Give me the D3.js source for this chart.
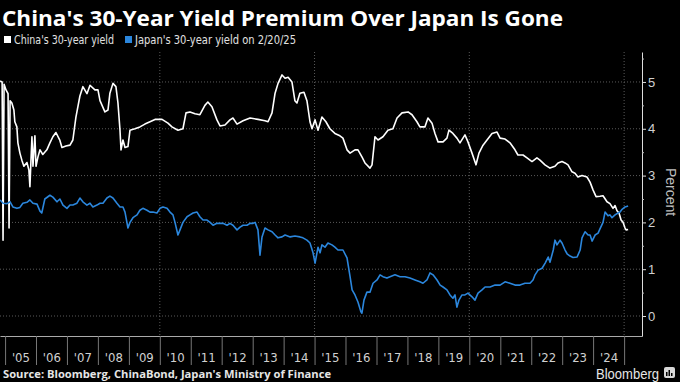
<!DOCTYPE html>
<html><head><meta charset="utf-8">
<script src="https://cdn.jsdelivr.net/npm/d3@7"></script>
<style>html,body{margin:0;padding:0;background:#000;} svg{display:block;}</style>
</head><body>
<svg id="chart" width="680" height="382"></svg>
<script>
const titleText = "China's 30-Year Yield Premium Over Japan Is Gone";
const seriesNames = ["China's 30-year yield", "Japan's 30-year yield on 2/20/25"];
const seriesColors = ["#ffffff", "#2b86dc"];
const sourceText = "Source: Bloomberg, ChinaBond, Japan's Ministry of Finance";
const yAxisTitle = "Percent";
const yTicks = [0, 1, 2, 3, 4, 5];
const yMinorTicks = [0.5, 1.5, 2.5, 3.5, 4.5, 5.5];
const yearTicks = [2005,2006,2007,2008,2009,2010,2011,2012,2013,2014,2015,2016,2017,2018,2019,2020,2021,2022,2023,2024,2025];
const yearLabels = ["'05","'06","'07","'08","'09","'10","'11","'12","'13","'14","'15","'16","'17","'18","'19","'20","'21","'22","'23","'24"];
const gridYears = [2010, 2015, 2020, 2025];

const chinaYield = [
["2004-11-03",5.02],["2004-11-27",5.0],["2004-12-08",1.62],["2004-12-20",4.95],["2005-01-12",4.83],["2005-02-05",4.75],["2005-02-17",1.88],["2005-03-01",4.6],["2005-03-22",4.55],["2005-04-15",4.4],["2005-04-26",4.15],["2005-05-20",4.04],["2005-06-01",3.7],["2005-06-25",3.48],["2005-07-18",3.33],["2005-08-11",3.2],["2005-09-16",3.28],["2005-10-09",3.12],["2005-10-21",2.76],["2005-11-02",3.3],["2005-11-14",3.83],["2005-11-26",3.2],["2005-12-19",3.85],["2006-01-01",3.2],["2006-01-24",3.4],["2006-02-17",3.55],["2006-03-22",3.45],["2006-05-09",3.55],["2006-06-14",3.7],["2006-07-19",3.83],["2006-08-24",3.92],["2006-10-10",3.75],["2006-11-03",3.6],["2006-12-20",3.63],["2007-02-06",3.65],["2007-03-12",3.76],["2007-04-17",4.25],["2007-06-03",4.7],["2007-07-08",4.9],["2007-08-25",4.75],["2007-09-30",4.93],["2007-11-27",4.83],["2008-01-02",4.83],["2008-01-26",4.6],["2008-03-24",4.36],["2008-04-29",4.4],["2008-05-22",4.76],["2008-06-27",4.97],["2008-08-01",4.9],["2008-08-25",4.55],["2008-09-18",3.97],["2008-09-30",3.55],["2008-10-23",3.76],["2008-11-16",3.6],["2008-12-21",3.62],["2009-01-14",3.97],["2009-03-13",4.0],["2009-05-11",4.04],["2009-07-09",4.1],["2009-09-07",4.15],["2009-11-05",4.2],["2010-01-27",4.2],["2010-04-07",4.12],["2010-05-24",4.04],["2010-08-03",3.97],["2010-10-01",4.0],["2010-11-06",4.34],["2010-12-23",4.36],["2011-02-20",4.32],["2011-04-19",4.3],["2011-06-17",4.5],["2011-07-22",4.57],["2011-09-08",4.47],["2011-11-06",4.19],["2011-12-12",4.06],["2012-02-09",4.08],["2012-04-08",4.19],["2012-05-13",4.23],["2012-06-30",4.1],["2012-09-09",4.17],["2012-12-01",4.23],["2013-03-04",4.2],["2013-05-26",4.17],["2013-07-01",4.15],["2013-08-17",4.34],["2013-09-22",4.76],["2013-10-27",4.97],["2013-12-13",5.15],["2014-01-18",5.08],["2014-02-23",5.1],["2014-04-09",5.0],["2014-05-14",4.6],["2014-06-07",4.55],["2014-07-12",4.76],["2014-08-29",4.78],["2014-10-03",4.6],["2014-11-08",4.15],["2014-12-02",4.0],["2015-01-07",4.19],["2015-02-11",3.97],["2015-03-29",4.25],["2015-05-15",4.15],["2015-07-01",4.0],["2015-08-29",3.9],["2015-10-27",3.85],["2015-12-02",3.8],["2016-01-19",3.55],["2016-02-24",3.48],["2016-04-22",3.55],["2016-05-27",3.55],["2016-07-13",3.4],["2016-08-18",3.27],["2016-10-16",3.16],["2016-11-09",3.23],["2016-12-14",3.83],["2017-01-19",3.76],["2017-03-18",3.83],["2017-05-16",3.97],["2017-07-14",4.0],["2017-08-31",4.23],["2017-10-29",4.34],["2018-01-08",4.36],["2018-02-24",4.3],["2018-04-23",4.15],["2018-05-28",4.04],["2018-07-26",4.04],["2018-08-31",4.23],["2018-10-18",4.12],["2018-11-22",3.9],["2018-12-28",3.72],["2019-02-25",3.72],["2019-04-12",3.8],["2019-05-06",3.97],["2019-06-22",3.9],["2019-08-08",3.8],["2019-09-13",3.7],["2019-11-11",3.87],["2019-12-16",3.72],["2020-02-02",3.48],["2020-03-20",3.23],["2020-04-24",3.48],["2020-06-11",3.65],["2020-07-28",3.76],["2020-09-25",3.9],["2020-11-23",3.93],["2020-12-29",3.8],["2021-02-26",3.78],["2021-04-25",3.7],["2021-06-23",3.55],["2021-07-28",3.44],["2021-09-26",3.44],["2021-11-12",3.38],["2022-01-10",3.3],["2022-03-09",3.38],["2022-04-14",3.33],["2022-06-12",3.23],["2022-08-10",3.16],["2022-10-08",3.2],["2022-11-13",3.27],["2022-12-30",3.3],["2023-02-04",3.27],["2023-03-11",3.23],["2023-04-27",3.08],["2023-06-01",3.05],["2023-07-06",2.97],["2023-08-23",3.0],["2023-10-21",2.97],["2023-11-26",2.86],["2024-01-01",2.69],["2024-02-05",2.55],["2024-03-22",2.56],["2024-04-27",2.57],["2024-06-13",2.44],["2024-07-18",2.4],["2024-08-23",2.3],["2024-09-16",2.36],["2024-10-09",2.25],["2024-11-02",2.2],["2024-11-26",2.05],["2024-12-20",2.0],["2025-01-12",1.88],["2025-01-24",1.84],["2025-02-17",1.85]
];

const japanYield = [
["2004-11-03",2.48],["2004-12-08",2.41],["2005-01-24",2.4],["2005-03-01",2.44],["2005-04-03",2.33],["2005-05-20",2.3],["2005-06-25",2.32],["2005-07-30",2.41],["2005-09-16",2.43],["2005-10-21",2.48],["2005-11-26",2.41],["2006-01-13",2.39],["2006-02-17",2.24],["2006-03-10",2.2],["2006-04-15",2.5],["2006-06-14",2.58],["2006-07-19",2.54],["2006-09-05",2.44],["2006-10-10",2.5],["2006-11-15",2.37],["2007-01-01",2.3],["2007-02-06",2.37],["2007-03-12",2.37],["2007-04-29",2.41],["2007-06-03",2.52],["2007-07-08",2.44],["2007-08-25",2.37],["2007-09-30",2.41],["2007-11-03",2.33],["2007-12-21",2.37],["2008-01-26",2.41],["2008-03-01",2.41],["2008-04-17",2.52],["2008-05-22",2.56],["2008-06-27",2.52],["2008-08-13",2.41],["2008-09-18",2.33],["2008-10-23",2.33],["2008-11-16",2.22],["2008-12-21",1.88],["2009-01-14",2.0],["2009-02-18",2.1],["2009-04-07",2.16],["2009-05-11",2.26],["2009-06-15",2.3],["2009-08-02",2.26],["2009-09-07",2.22],["2009-10-12",2.22],["2009-11-28",2.2],["2010-01-03",2.3],["2010-02-07",2.33],["2010-03-27",2.3],["2010-05-01",2.22],["2010-06-05",2.16],["2010-06-29",2.0],["2010-08-03",1.73],["2010-08-27",1.84],["2010-10-01",2.0],["2010-11-18",2.12],["2010-12-23",2.16],["2011-01-28",2.2],["2011-03-16",2.22],["2011-04-19",2.12],["2011-05-26",2.05],["2011-07-12",2.05],["2011-08-17",2.0],["2011-09-21",1.94],["2011-11-06",1.98],["2011-12-12",1.98],["2012-01-17",1.98],["2012-03-04",1.94],["2012-04-08",1.98],["2012-05-13",1.94],["2012-06-30",1.84],["2012-08-05",1.9],["2012-09-09",1.94],["2012-10-26",1.94],["2012-12-01",1.98],["2013-01-05",1.98],["2013-01-29",2.0],["2013-03-04",1.84],["2013-03-28",1.3],["2013-04-21",1.69],["2013-05-26",1.88],["2013-07-01",1.84],["2013-08-17",1.8],["2013-09-22",1.73],["2013-10-27",1.67],["2013-12-13",1.69],["2014-01-18",1.73],["2014-03-19",1.69],["2014-05-14",1.71],["2014-07-12",1.69],["2014-08-17",1.67],["2014-10-03",1.62],["2014-11-08",1.56],["2014-12-14",1.35],["2015-01-07",1.13],["2015-02-11",1.47],["2015-03-07",1.35],["2015-03-29",1.52],["2015-05-04",1.47],["2015-06-08",1.56],["2015-07-25",1.52],["2015-08-29",1.47],["2015-10-04",1.41],["2015-10-27",1.41],["2015-12-02",1.41],["2016-01-19",1.24],["2016-02-24",0.84],["2016-03-19",0.56],["2016-04-22",0.45],["2016-05-27",0.3],["2016-07-01",0.09],["2016-07-13",0.06],["2016-08-06",0.34],["2016-09-10",0.51],["2016-10-16",0.51],["2016-11-21",0.7],["2017-01-07",0.77],["2017-02-12",0.88],["2017-03-18",0.84],["2017-05-04",0.81],["2017-06-09",0.84],["2017-08-07",0.88],["2017-10-05",0.84],["2017-12-03",0.84],["2018-01-31",0.81],["2018-03-31",0.77],["2018-05-28",0.73],["2018-07-03",0.7],["2018-08-19",0.77],["2018-09-24",0.92],["2018-10-30",0.88],["2018-12-16",0.77],["2019-01-22",0.66],["2019-02-25",0.62],["2019-04-12",0.56],["2019-05-18",0.45],["2019-06-22",0.38],["2019-07-16",0.45],["2019-08-08",0.19],["2019-09-01",0.34],["2019-10-07",0.45],["2019-11-11",0.45],["2019-12-16",0.49],["2020-02-02",0.41],["2020-03-08",0.34],["2020-04-13",0.49],["2020-05-30",0.56],["2020-07-05",0.62],["2020-09-02",0.62],["2020-10-31",0.66],["2020-12-29",0.66],["2021-02-26",0.73],["2021-04-25",0.7],["2021-06-23",0.66],["2021-08-21",0.66],["2021-10-19",0.7],["2021-12-17",0.7],["2022-01-22",0.77],["2022-02-15",0.88],["2022-03-23",0.98],["2022-05-09",1.02],["2022-06-14",1.13],["2022-07-20",1.26],["2022-08-10",1.15],["2022-09-18",1.41],["2022-10-08",1.62],["2022-11-01",1.52],["2022-12-07",1.62],["2022-12-30",1.56],["2023-02-04",1.41],["2023-02-28",1.33],["2023-04-04",1.28],["2023-05-09",1.25],["2023-06-26",1.26],["2023-08-01",1.41],["2023-08-23",1.67],["2023-09-28",1.8],["2023-11-03",1.73],["2023-11-26",1.73],["2023-12-20",1.6],["2024-01-24",1.73],["2024-02-29",1.77],["2024-03-22",1.86],["2024-04-27",2.0],["2024-05-21",2.22],["2024-06-25",2.14],["2024-07-18",2.16],["2024-08-11",2.1],["2024-09-16",2.16],["2024-10-21",2.2],["2024-11-14",2.22],["2024-12-08",2.28],["2025-01-12",2.33],["2025-02-17",2.35]
];

const svg = d3.select("#chart");
svg.append("rect").attr("width", 680).attr("height", 382).attr("fill", "#000");

const plot = {left: 0, right: 642, top: 52, bottom: 336};
const parse = d3.timeParse("%Y-%m-%d");
const x = d3.scaleTime().domain([new Date(2004, 10, 2), new Date(2025, 6, 31)]).range([plot.left, plot.right]);
const y = d3.scaleLinear().domain([-0.427, 5.64]).range([plot.bottom, plot.top]);

function fit(sel, w) {
  const n = sel.node();
  const len = n.getComputedTextLength();
  if (len > 0) sel.attr("textLength", w).attr("lengthAdjust", "spacingAndGlyphs");
}

// Title
const t = svg.append("text").attr("x", 2).attr("y", 26).text(titleText)
  .attr("fill", "#fff").attr("font-family", "'Open Sans', 'DejaVu Sans', sans-serif")
  .attr("font-weight", 700).attr("font-size", 22);
fit(t, 561);

// Legend
const legendX = [4, 125];
const legendW = [100, 161];
seriesNames.forEach((name, i) => {
  svg.append("rect").attr("x", legendX[i]).attr("y", 36).attr("width", 7).attr("height", 7).attr("fill", seriesColors[i]);
  const lt = svg.append("text").attr("x", legendX[i] + 10).attr("y", 44).text(name)
    .attr("fill", "#e0e0e0").attr("font-family", "'Liberation Sans Narrow', 'DejaVu Sans Condensed', sans-serif")
    .attr("font-size", 12);
  fit(lt, legendW[i]);
});

// Grid
const gridG = svg.append("g");
gridG.selectAll("line.h").data(yTicks).join("line")
  .attr("x1", plot.left).attr("x2", plot.right)
  .attr("y1", d => y(d)).attr("y2", d => y(d))
  .attr("stroke", "#5a5a5a").attr("stroke-width", 1).attr("stroke-dasharray", "1,2");
gridG.selectAll("line.v").data(gridYears).join("line")
  .attr("x1", d => x(new Date(d, 0, 1))).attr("x2", d => x(new Date(d, 0, 1)))
  .attr("y1", plot.top).attr("y2", plot.bottom)
  .attr("stroke", "#5a5a5a").attr("stroke-width", 1).attr("stroke-dasharray", "1,2");

// Lines
const line = d3.line().x(d => x(parse(d[0]))).y(d => y(d[1])).curve(d3.curveLinear);
[chinaYield, japanYield].forEach((s, i) => {
  svg.append("path").datum(s).attr("d", line).attr("fill", "none")
    .attr("stroke", seriesColors[i]).attr("stroke-width", 1.6).attr("stroke-linejoin", "round");
});

// Bottom axis: year boundaries
const xAxis = d3.axisBottom(x).tickValues(yearTicks.map(yv => new Date(yv, 0, 1)))
  .tickSize(29).tickSizeOuter(0).tickFormat("");
const gx = svg.append("g").attr("transform", `translate(0,${plot.bottom})`).call(xAxis);
gx.select(".domain").attr("stroke", "#aaa");
gx.selectAll(".tick line").attr("stroke", "#777");

// Year labels
const labelDates = yearLabels.map((l, i) => new Date(yearTicks[i], 6, 1));
const xLab = d3.axisBottom(x).tickValues(labelDates).tickSize(0)
  .tickFormat((d, i) => yearLabels[i]);
const gxl = svg.append("g").attr("transform", `translate(0,${plot.bottom})`).call(xLab);
gxl.select(".domain").remove();
gxl.selectAll(".tick text").attr("y", 26).attr("dy", 0).attr("fill", "#d0d0d0")
  .attr("font-family", "'Liberation Sans Narrow', 'DejaVu Sans Condensed', sans-serif").attr("font-size", 13);

// Right axis
const yAxis = d3.axisRight(y).tickValues(yTicks).tickSize(4).tickSizeOuter(0).tickPadding(2)
  .tickFormat(d3.format("d"));
const gy = svg.append("g").attr("transform", `translate(${plot.right},0)`).call(yAxis);
gy.select(".domain").attr("stroke", "#ddd");
gy.selectAll(".tick line").attr("stroke", "#ddd");
gy.selectAll(".tick text").attr("fill", "#d0d0d0")
  .attr("font-family", "'Liberation Sans', 'DejaVu Sans', sans-serif").attr("font-size", 13);
const yMinor = d3.axisRight(y).tickValues(yMinorTicks).tickSize(2).tickFormat("");
const gym = svg.append("g").attr("transform", `translate(${plot.right},0)`).call(yMinor);
gym.select(".domain").remove();
gym.selectAll(".tick line").attr("stroke", "#bbb");

// Axis title
svg.append("text").attr("transform", "translate(666,192) rotate(90)")
  .attr("text-anchor", "middle").text(yAxisTitle).attr("fill", "#bdbdbd")
  .attr("font-family", "'Liberation Sans', 'DejaVu Sans', sans-serif").attr("font-size", 14);

// Source
const st = svg.append("text").attr("x", 3).attr("y", 378).text(sourceText)
  .attr("fill", "#e6e6e6").attr("font-family", "'Open Sans', 'DejaVu Sans', sans-serif")
  .attr("font-weight", 700).attr("font-size", 11);
fit(st, 328);

// Bloomberg mark
const bt = svg.append("text").attr("x", 596).attr("y", 379).text("Bloomberg")
  .attr("fill", "#e6e6e6").attr("font-family", "'Liberation Sans', 'DejaVu Sans', sans-serif")
  .attr("font-size", 14);
fit(bt, 63);
const icon = svg.append("g").attr("transform", "translate(664,367)");
icon.append("rect").attr("width", 11).attr("height", 11).attr("rx", 2).attr("fill", "#d8d8d8");
[[2, 5, 1.5, 4], [4.5, 3, 1.5, 6], [7, 6, 1.5, 3]].forEach(b => {
  icon.append("rect").attr("x", b[0]).attr("y", b[1]).attr("width", b[2]).attr("height", b[3]).attr("fill", "#000");
});
</script>
</body></html>
